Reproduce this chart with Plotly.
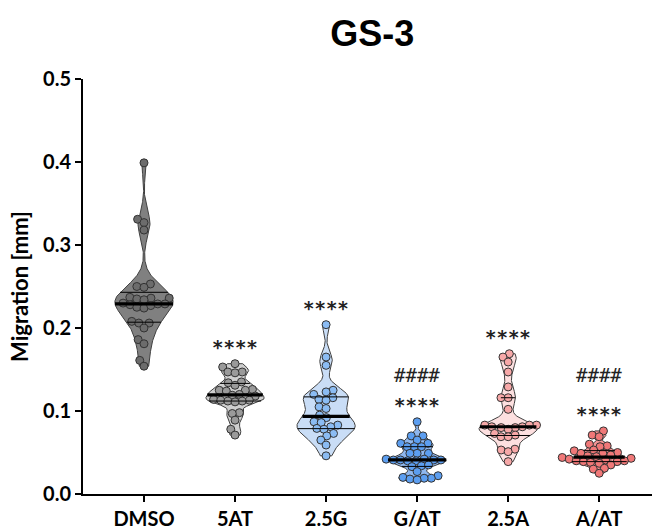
import numpy as np
import plotly.graph_objects as go

# ---- data -------------------------------------------------------------
categories = ["DMSO", "5AT", "2.5G", "G/AT", "2.5A", "A/AT"]

dmso = [0.399, 0.331, 0.327, 0.318,
        0.253, 0.250, 0.249,
        0.237, 0.236, 0.235, 0.236, 0.234,
        0.230, 0.228, 0.225, 0.224, 0.227, 0.229, 0.229,
        0.208, 0.206, 0.206, 0.200,
        0.186, 0.181, 0.161, 0.154]
at5 = [0.157, 0.153, 0.147, 0.147, 0.146, 0.135, 0.134, 0.131, 0.126, 0.125,
       0.125, 0.124, 0.120, 0.119, 0.118, 0.114, 0.113, 0.113, 0.112, 0.112,
       0.111, 0.098, 0.097, 0.089, 0.078, 0.071]
g25 = [0.204, 0.165, 0.155, 0.125, 0.123, 0.120, 0.116, 0.114, 0.113, 0.105,
       0.103, 0.095, 0.092, 0.087, 0.086, 0.083, 0.081, 0.079, 0.078, 0.073,
       0.070, 0.065, 0.059, 0.046]
gat = [0.087, 0.070, 0.070, 0.065, 0.061, 0.061, 0.057, 0.057, 0.057, 0.049,
       0.049, 0.049, 0.042, 0.041, 0.041, 0.041, 0.040, 0.041, 0.042, 0.040,
       0.034, 0.033, 0.035, 0.027, 0.022, 0.020, 0.019, 0.018, 0.019, 0.017]
a25 = [0.169, 0.165, 0.159, 0.147, 0.129, 0.116, 0.116, 0.102, 0.083, 0.083,
       0.083, 0.081, 0.081, 0.080, 0.080, 0.078, 0.073, 0.071, 0.069, 0.069,
       0.054, 0.053, 0.051, 0.039]
aat = [0.076, 0.071, 0.069, 0.060, 0.058, 0.057, 0.053, 0.052, 0.050, 0.049,
       0.049, 0.047, 0.046, 0.045, 0.044, 0.043, 0.042, 0.041, 0.040, 0.040,
       0.039, 0.039, 0.038, 0.037, 0.035, 0.031, 0.030, 0.025]
groups = [dmso, at5, g25, gat, a25, aat]

# significance marks: vs DMSO (****) and vs single treatment (####)
stars = ["", "****", "****", "****", "****", "****"]
hashes = ["", "", "", "####", "", "####"]

y_ticks = [0.0, 0.1, 0.2, 0.3, 0.4, 0.5]

# ---- styling ----------------------------------------------------------
violin_fill = ["#808080", "#cfcfcf", "#c9ddf6", "#8fb7ee", "#fde0e0", "#f39494"]
point_fill = ["#6c6c6c", "#9a9a9a", "#8bbcf3", "#5c9ef0", "#f7a8a8", "#f07878"]
edge = "#333333"

W, H = 652, 531
M_L, M_R, M_T, M_B = 83, 0, 79, 37
X_RANGE = [-0.67, 5.58]
Y_RANGE = [0.0, 0.5]
PX_X = (W - M_L - M_R) / (X_RANGE[1] - X_RANGE[0])
PX_Y = (H - M_T - M_B) / (Y_RANGE[1] - Y_RANGE[0])
HALF_W = 0.32          # max violin half-width in category units
MARKER = 8             # marker diameter, px
SPACING = 7.2          # swarm spacing, px (markers overlap slightly)


def kde(vals, grid, bw):
    v = np.asarray(vals)[:, None]
    return np.exp(-0.5 * ((grid[None, :] - v) / bw) ** 2).sum(axis=0)


def swarm(vals, d):
    """Beeswarm x-offsets (px) so that markers do not overlap."""
    ys = np.asarray(vals) * PX_Y
    xs = np.zeros(len(ys))
    placed = []
    for i in np.argsort(ys):
        y = ys[i]
        cands = [0.0]
        for px, py in placed:
            dy = y - py
            if abs(dy) < d:
                dx = np.sqrt(d * d - dy * dy)
                cands += [px + dx, px - dx]
        cands.sort(key=lambda c: (abs(c), c))
        for c in cands:
            if all((c - px) ** 2 + (y - py) ** 2 >= d * d - 1e-6 for px, py in placed):
                xs[i] = c
                break
        placed.append((xs[i], y))
    return xs


fig = go.Figure()

for i, vals in enumerate(groups):
    v = np.asarray(vals)
    lo, hi = v.min(), v.max()
    bw = 0.06 * (hi - lo)
    grid = np.linspace(lo, hi, 300)
    dens = kde(v, grid, bw)
    scale = HALF_W / dens.max()
    half = dens * scale

    # violin body
    fig.add_trace(go.Scatter(
        x=np.concatenate([i + half, (i - half)[::-1], [i + half[0]]]),
        y=np.concatenate([grid, grid[::-1], [grid[0]]]),
        mode="lines", fill="toself", fillcolor=violin_fill[i],
        line=dict(color="#404040", width=1), hoverinfo="skip", showlegend=False))

    # individual measurements
    off = swarm(v, SPACING) / PX_X
    fig.add_trace(go.Scatter(
        x=i + off, y=v, mode="markers",
        marker=dict(size=MARKER, color=point_fill[i], line=dict(color=edge, width=1)),
        showlegend=False, hovertemplate="%{y:.3f}<extra>" + categories[i] + "</extra>"))

    # median and quartiles spanning the violin width
    q1, med, q3 = np.percentile(v, [25, 50, 75])
    for q, lw in ((q1, 1), (q3, 1), (med, 3.2)):
        w = kde(v, np.array([q]), bw)[0] * scale
        fig.add_trace(go.Scatter(
            x=[i - w, i + w], y=[q, q], mode="lines",
            line=dict(color="black", width=lw), hoverinfo="skip", showlegend=False))

# significance labels above each group
mark_font = dict(family="DejaVu Sans Mono", size=19, color="#222222")
star_y = [max(g) + 0.020 for g in groups]
hash_level = max(star_y[k] for k in range(len(groups)) if hashes[k]) + 0.036
for i in range(len(groups)):
    if stars[i]:
        fig.add_annotation(x=i, y=star_y[i], text="<b>" + stars[i] + "</b>",
                           showarrow=False, font=mark_font, yanchor="middle")
    if hashes[i]:
        fig.add_annotation(x=i, y=hash_level, text=hashes[i],
                           showarrow=False, font=mark_font, yanchor="middle")

axis_font = dict(family="Lato", size=20, color="black")
fig.update_layout(
    width=W, height=H,
    margin=dict(l=M_L, r=M_R, t=M_T, b=M_B),
    plot_bgcolor="white", paper_bgcolor="white",
    title=dict(text="<b>GS-3</b>", x=0.571, xanchor="center", y=0.938, yanchor="middle",
               font=dict(family="Liberation Sans", size=36, color="black")),
    xaxis=dict(range=X_RANGE, tickmode="array", tickvals=list(range(len(categories))),
               ticktext=[f"<b>{c}</b>" for c in categories], showline=True,
               linecolor="black", linewidth=2, ticks="outside", ticklen=6, tickwidth=2,
               tickcolor="black", showgrid=False, zeroline=False, tickfont=axis_font),
    yaxis=dict(range=Y_RANGE, tickmode="array", tickvals=y_ticks,
               ticktext=[f"<b>{t:.1f}</b>" for t in y_ticks], showline=True,
               linecolor="black", linewidth=2, ticks="outside", ticklen=6, tickwidth=2,
               tickcolor="black", showgrid=False, zeroline=False, tickfont=axis_font,
               title=dict(text="<b>Migration [mm]</b>", font=dict(family="Lato", size=22,
                          color="black"), standoff=8)),
)

fig.write_html("out.html")
